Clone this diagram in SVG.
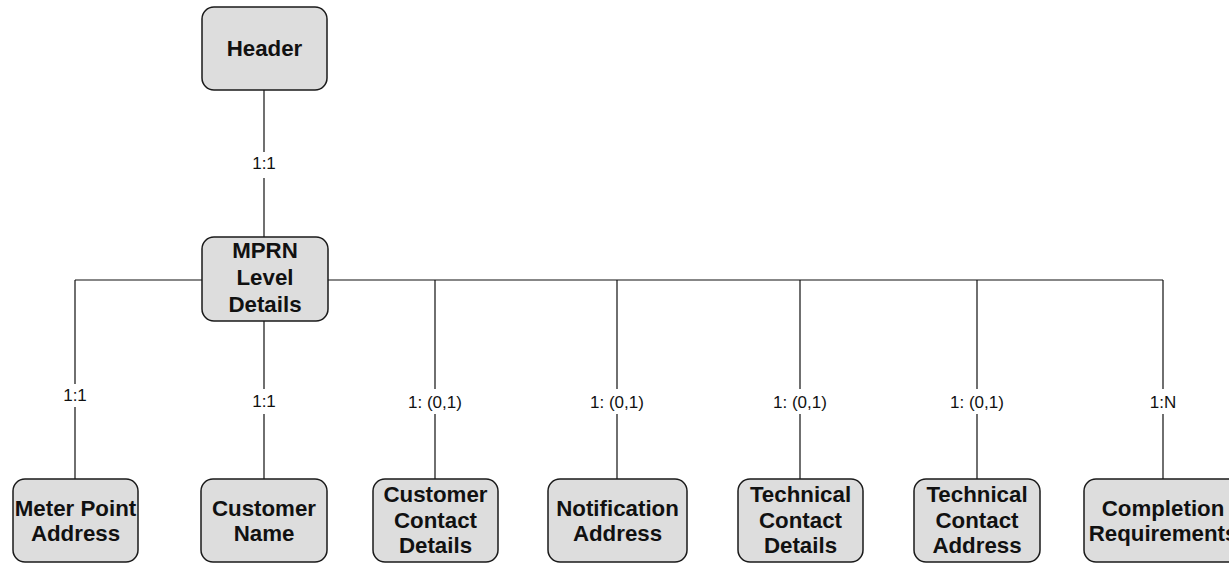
<svg xmlns="http://www.w3.org/2000/svg" width="1229" height="563" viewBox="0 0 1229 563">
<style>
.box{fill:#dddddd;stroke:#1a1a1a;stroke-width:1.5}
.nt{font-family:"Liberation Sans",Arial,sans-serif;font-weight:bold;font-size:22.3px;fill:#111;text-anchor:middle}
.ln{stroke:#111;stroke-width:1.2;fill:none}
.lb{font-family:"Liberation Sans",Arial,sans-serif;font-size:17px;fill:#111;text-anchor:middle}
.bg{fill:#fff}
</style>
<rect width="1229" height="563" fill="#fff"/>
<g id="connectors">
<path class="ln" d="M264 90V237"/>
<path class="ln" d="M75 280H1163"/>
<path class="ln" d="M75 280V479M264 321V479M435 280V479M617 280V479M800 280V479M977 280V479M1163 280V479"/>
<rect class="bg" x="248" y="152" width="32" height="26"/>
<text class="lb" x="264" y="169">1:1</text>
<rect class="bg" x="59" y="384" width="32" height="23"/>
<text class="lb" x="75" y="401">1:1</text>
<rect class="bg" x="248" y="389" width="32" height="25"/>
<text class="lb" x="264" y="407">1:1</text>
<rect class="bg" x="402" y="389" width="66" height="25"/>
<text class="lb" x="435" y="408">1: (0,1)</text>
<rect class="bg" x="584" y="389" width="66" height="25"/>
<text class="lb" x="617" y="408">1: (0,1)</text>
<rect class="bg" x="767" y="389" width="66" height="25"/>
<text class="lb" x="800" y="408">1: (0,1)</text>
<rect class="bg" x="944" y="389" width="66" height="25"/>
<text class="lb" x="977" y="408">1: (0,1)</text>
<rect class="bg" x="1147" y="389" width="32" height="25"/>
<text class="lb" x="1163" y="408">1:N</text>
</g>
<g id="header">
<rect class="box" x="202" y="7" width="125" height="83" rx="12"/>
<text class="nt" x="264.5" y="56">Header</text>
</g>
<g id="mprn">
<rect class="box" x="202" y="237" width="126" height="84" rx="12"/>
<text class="nt" x="265" y="258">MPRN</text>
<text class="nt" x="265" y="285">Level</text>
<text class="nt" x="265" y="312">Details</text>
</g>
<g id="meter-point-address">
<rect class="box" x="13" y="479" width="125" height="83" rx="12"/>
<text class="nt" x="75.5" y="516">Meter Point</text>
<text class="nt" x="75.5" y="541">Address</text>
</g>
<g id="customer-name">
<rect class="box" x="201" y="479" width="126" height="83" rx="12"/>
<text class="nt" x="264" y="516">Customer</text>
<text class="nt" x="264" y="541">Name</text>
</g>
<g id="customer-contact-details">
<rect class="box" x="373" y="479" width="125" height="83" rx="12"/>
<text class="nt" x="435.5" y="502">Customer</text>
<text class="nt" x="435.5" y="527.5">Contact</text>
<text class="nt" x="435.5" y="553">Details</text>
</g>
<g id="notification-address">
<rect class="box" x="548" y="479" width="139" height="83" rx="12"/>
<text class="nt" x="617.5" y="516">Notification</text>
<text class="nt" x="617.5" y="541">Address</text>
</g>
<g id="technical-contact-details">
<rect class="box" x="738" y="479" width="125" height="83" rx="12"/>
<text class="nt" x="800.5" y="502">Technical</text>
<text class="nt" x="800.5" y="527.5">Contact</text>
<text class="nt" x="800.5" y="553">Details</text>
</g>
<g id="technical-contact-address">
<rect class="box" x="914" y="479" width="126" height="83" rx="12"/>
<text class="nt" x="977" y="502">Technical</text>
<text class="nt" x="977" y="527.5">Contact</text>
<text class="nt" x="977" y="553">Address</text>
</g>
<g id="completion-requirements">
<rect class="box" x="1084" y="479" width="158" height="83" rx="12"/>
<text class="nt" x="1163" y="516">Completion</text>
<text class="nt" x="1163" y="541">Requirements</text>
</g>
</svg>
